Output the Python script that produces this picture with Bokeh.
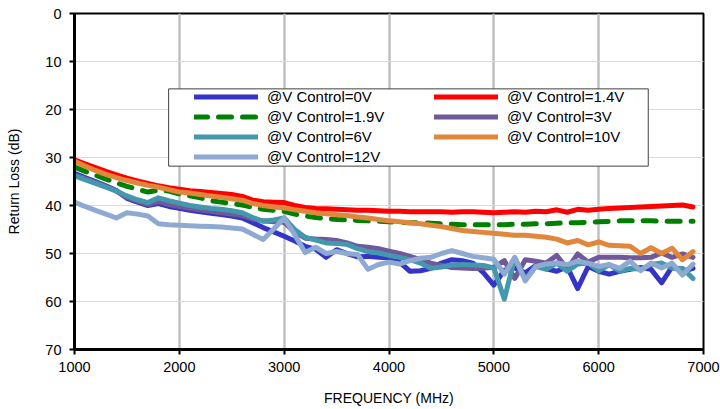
from bokeh.plotting import figure
from bokeh.models import Range1d, FixedTicker, Legend, LegendItem, BoxAnnotation
from bokeh.embed import file_html
from bokeh.resources import INLINE

freq = [1000, 1100, 1200, 1300, 1400, 1500, 1600, 1700, 1800, 1900,
        2000, 2100, 2200, 2300, 2400, 2500, 2600, 2700, 2800, 2900,
        3000, 3100, 3200, 3300, 3400, 3500, 3600, 3700, 3800, 3900,
        4000, 4100, 4200, 4300, 4400, 4500, 4600, 4700, 4800, 4900,
        5000, 5100, 5200, 5300, 5400, 5500, 5600, 5700, 5800, 5900,
        6000, 6100, 6200, 6300, 6400, 6500, 6600, 6700, 6800, 6900]

v0 = [33.3, 34.2, 35.0, 35.9, 36.9, 38.5, 39.3, 40.0, 39.6, 40.2,
      40.6, 41.0, 41.3, 41.6, 41.9, 42.2, 42.6, 43.6, 44.6, 45.5,
      46.4, 47.4, 48.5, 49.1, 50.8, 49.2, 50.0, 50.7, 50.6, 50.8,
      50.9, 51.8, 53.7, 53.6, 53.1, 52.0, 51.3, 51.5, 52.0, 54.0,
      56.6, 53.5, 53.0, 54.0, 52.5, 53.2, 53.7, 52.8, 57.3, 52.7,
      53.7, 54.3, 53.7, 53.3, 52.9, 53.3, 56.1, 52.8, 53.7, 53.1]

v1_4 = [30.5, 31.3, 32.1, 32.9, 33.6, 34.3, 34.9, 35.4, 35.9, 36.3,
        36.6, 36.9, 37.1, 37.3, 37.5, 37.7, 38.1, 38.9, 39.2, 39.3,
        39.4, 40.0, 40.4, 40.6, 40.7, 40.8, 40.9, 41.0, 41.0, 41.1,
        41.2, 41.2, 41.3, 41.3, 41.3, 41.3, 41.4, 41.3, 41.3, 41.4,
        41.5, 41.4, 41.3, 41.4, 41.2, 41.3, 40.9, 41.4, 40.8, 41.0,
        40.8, 40.6, 40.5, 40.4, 40.3, 40.2, 40.1, 40.0, 39.9, 40.3]

v1_9 = [32.0, 32.9, 33.7, 34.5, 35.3, 36.0, 36.6, 37.2, 36.8, 37.0,
        37.6, 38.0, 38.4, 39.0, 39.3, 39.6, 39.9, 40.4, 40.8, 41.0,
        41.2, 41.8, 42.2, 42.5, 42.7, 42.9, 43.0, 43.1, 43.2, 43.3,
        43.4, 43.5, 43.6, 43.6, 43.7, 43.8, 43.9, 44.0, 44.0, 44.0,
        44.0, 44.0, 43.9, 43.9, 43.8, 43.8, 43.7, 43.6, 43.6, 43.5,
        43.4, 43.3, 43.2, 43.2, 43.2, 43.2, 43.3, 43.3, 43.3, 43.3]

v3 = [33.6, 34.4, 35.2, 36.0, 37.0, 38.3, 39.1, 39.8, 39.2, 39.8,
      40.2, 40.6, 40.9, 41.2, 41.5, 41.8, 42.1, 42.8, 43.2, 43.4,
      43.5, 45.5, 46.8, 47.0, 47.1, 47.3, 47.8, 48.5, 48.7, 49.0,
      49.5, 50.0, 50.6, 51.3, 52.0, 52.5, 52.9, 53.0, 53.1, 53.0,
      52.9, 51.5, 55.2, 51.3, 51.6, 52.0, 50.4, 53.2, 50.1, 51.8,
      50.8, 50.8, 50.8, 50.9, 50.9, 50.8, 49.9, 50.8, 50.1, 50.8]

v6 = [33.8, 34.6, 35.4, 36.2, 37.0, 38.0, 38.8, 39.4, 38.4, 39.0,
      39.5, 40.0, 40.3, 40.6, 40.8, 41.1, 41.5, 42.5, 43.3, 43.0,
      42.6, 45.0, 46.6, 47.2, 47.8, 47.9, 48.1, 49.0, 49.6, 49.9,
      50.4, 50.8, 51.3, 52.0, 53.1, 52.8, 52.4, 52.3, 52.4, 52.5,
      53.0, 59.5, 50.9, 55.4, 52.7, 53.3, 52.0, 53.7, 52.2, 52.0,
      53.6, 52.3, 53.7, 53.1, 53.3, 52.3, 52.0, 53.0, 53.1, 55.2]

v10 = [30.8, 31.8, 32.7, 33.5, 34.2, 34.8, 35.3, 35.8, 36.2, 36.7,
       37.2, 37.4, 37.7, 38.0, 38.3, 38.6, 38.9, 39.6, 40.0, 40.3,
       40.5, 40.9, 41.2, 41.5, 41.7, 41.9, 42.1, 42.4, 42.6, 42.9,
       43.2, 43.4, 43.6, 43.8, 44.1, 44.4, 44.8, 45.2, 45.4, 45.6,
       45.8, 46.0, 46.2, 46.2, 46.4, 46.6, 47.0, 47.8, 47.3, 48.2,
       47.6, 48.3, 48.4, 48.5, 50.0, 48.8, 50.0, 48.9, 51.3, 49.6]

v12 = [39.3, 40.2, 41.0, 41.8, 42.6, 41.5, 41.8, 42.2, 43.8, 44.0,
       44.1, 44.2, 44.3, 44.4, 44.5, 44.7, 44.9, 46.0, 47.1, 44.9,
       42.6, 46.1, 49.8, 48.7, 50.0, 49.6, 50.0, 50.2, 53.3, 52.3,
       51.8, 52.2, 51.5, 51.0, 50.8, 50.0, 49.4, 50.0, 50.6, 50.9,
       51.2, 54.3, 50.8, 55.7, 52.7, 52.2, 52.0, 52.3, 51.6, 52.0,
       52.7, 52.3, 53.1, 51.6, 53.6, 52.0, 53.0, 52.0, 54.5, 52.2]

labels = ["@V Control=0V", "@V Control=1.4V", "@V Control=1.9V", "@V Control=3V",
          "@V Control=6V", "@V Control=10V", "@V Control=12V"]
x_ticks = [1000, 2000, 3000, 4000, 5000, 6000, 7000]
y_ticks = [0, 10, 20, 30, 40, 50, 60, 70]

series = [v0, v1_4, v1_9, v3, v6, v10, v12]
colors = ["#3434c8", "#ff0000", "#008000", "#70589a", "#4398ae", "#e0873c", "#8eaad2"]
dashes = ["solid", "solid", "13 11", "solid", "solid", "solid", "solid"]

FONT = "Liberation Sans"

p = figure(width=720, height=409, output_backend="svg", toolbar_location=None,
           x_range=Range1d(1000, 7000), y_range=Range1d(70, 0),
           min_border_left=74, min_border_right=17, min_border_top=13, min_border_bottom=60)
p.background_fill_color = "white"
p.border_fill_color = "white"
p.outline_line_color = "black"
p.outline_line_width = 2

p.xaxis.ticker = FixedTicker(ticks=x_ticks)
p.yaxis.ticker = FixedTicker(ticks=y_ticks)
p.xaxis.axis_label = "FREQUENCY (MHz)"
p.yaxis.axis_label = "Return Loss (dB)"
for ax in (p.xaxis, p.yaxis):
    ax.axis_line_color = "black"
    ax.axis_line_width = 3
    ax.major_tick_line_color = "black"
    ax.major_tick_line_width = 2
    ax.major_tick_out = 5
    ax.major_tick_in = 0
    ax.minor_tick_line_color = None
    ax.major_label_text_font = FONT
    ax.major_label_text_font_size = "14.5px"
    ax.major_label_text_color = "black"
    ax.axis_label_text_font = FONT
    ax.axis_label_text_font_size = "14px"
    ax.axis_label_text_font_style = "normal"
    ax.axis_label_text_color = "black"
p.xaxis.major_label_standoff = 7
p.xaxis.axis_label_standoff = 15
p.yaxis.major_label_standoff = 8
p.yaxis.axis_label_standoff = 20

p.xgrid.grid_line_color = "#c0c0c0"
p.xgrid.grid_line_width = 2.5
p.ygrid.grid_line_color = "#d9d9d9"
p.ygrid.grid_line_width = 1

renderers = []
for vals, c, d in zip(series, colors, dashes):
    r = p.line(freq, vals, line_color=c, line_width=5, line_join="round",
               line_cap="round", line_dash=d)
    renderers.append(r)

box = BoxAnnotation(left=1898, right=6473, top=15.7, bottom=31.8,
                    fill_color="white", fill_alpha=1.0,
                    line_color="#404040", line_width=1, line_alpha=1.0)
p.add_layout(box)

order = [0, 2, 4, 6, 1, 3, 5]
items = [LegendItem(label=labels[i], renderers=[renderers[i]]) for i in order]
legend = Legend(items=items, location=(120, 184), orientation="vertical", nrows=4,
                border_line_color=None, background_fill_alpha=0.0,
                label_text_font=FONT, label_text_font_size="15px",
                label_text_color="black",
                glyph_width=64, glyph_height=17, label_height=17, label_width=164,
                label_standoff=9, spacing=3, padding=0, margin=0)
p.add_layout(legend, "center")

open("out.html", "w").write(file_html(p, INLINE))
